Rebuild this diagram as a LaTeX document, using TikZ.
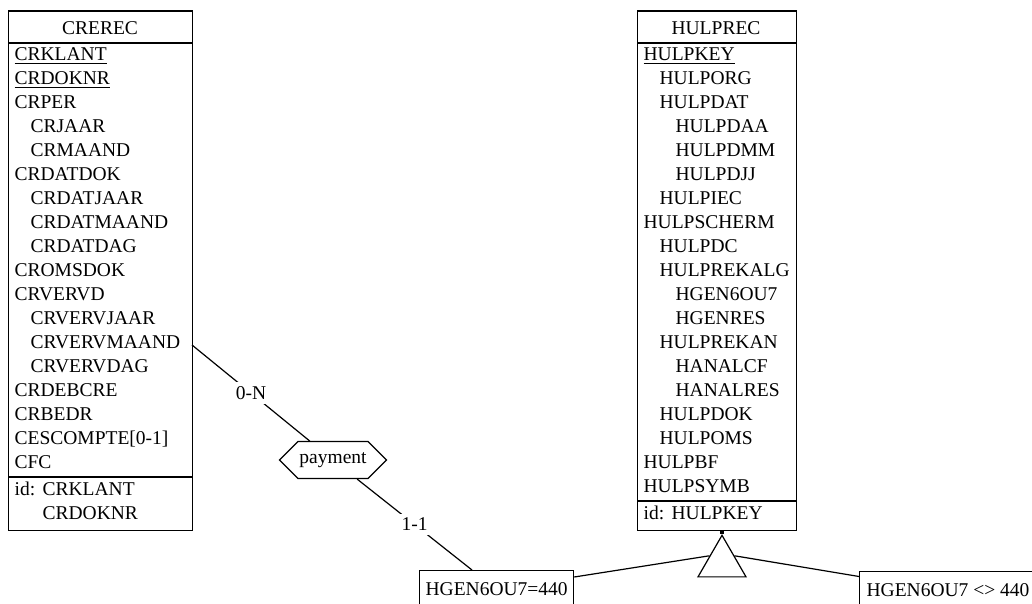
\documentclass[tikz,border=0pt]{standalone}
\usepackage{fontspec}
\setmainfont{Liberation Serif}
\usetikzlibrary{shapes.geometric,shapes.symbols,calc}

\begin{document}
\begin{tikzpicture}[x=0.5pt, y=-0.5pt, line width=0.6pt,
	every node/.style={font=\fontsize{9.75}{12}\selectfont, inner sep=0pt},
	entity/.style={draw, anchor=north west, minimum height=259.75pt},
	attr/.style={anchor=base west},
	card/.style={fill=white, inner sep=2pt},
	subtype/.style={draw, anchor=north west, inner xsep=3pt, inner ysep=0pt, text height=12.5pt, text depth=10pt}]
	\useasboundingbox (0,0) rectangle (1032,604);
	
	% CREREC
	\node[entity, minimum width=92pt] (crerec) at (8,10.5) {};
	\node[anchor=base] (creTitle) at (100,34.5) {CREREC};
	\draw (8,43) -- (192,43);
	\draw (8,477) -- (192,477);
	\foreach \name/\lvl [count=\i] in {{\underline{CRKLANT}}/0, {\underline{CRDOKNR}}/0, CRPER/0, CRJAAR/1, CRMAAND/1, CRDATDOK/0, CRDATJAAR/1, CRDATMAAND/1, CRDATDAG/1, CROMSDOK/0, CRVERVD/0, CRVERVJAAR/1, CRVERVMAAND/1, CRVERVDAG/1, CRDEBCRE/0, CRBEDR/0, {CESCOMPTE[0-1]}/0, CFC/0} {
		\pgfmathsetmacro{\x}{14+\lvl*16}
		\pgfmathsetmacro{\y}{60.5+(\i-1)*24}
		\node[attr] (cre\i) at (\x,\y) {\name};
	}
	\node[attr] (creId) at (14,495) {id:};
	\node[attr] (creIdA) at (42,495) {CRKLANT};
	\node[attr] (creIdB) at (42,519) {CRDOKNR};
	
	% HULPREC
	\node[entity, minimum width=79.5pt] (hulprec) at (637,10.5) {};
	\node[anchor=base] (hulpTitle) at (716,34.5) {HULPREC};
	\draw (637,43) -- (796,43);
	\draw (637,501) -- (796,501);
	\foreach \name/\lvl [count=\i] in {{\underline{HULPKEY}}/0, HULPORG/1, HULPDAT/1, HULPDAA/2, HULPDMM/2, HULPDJJ/2, HULPIEC/1, HULPSCHERM/0, HULPDC/1, HULPREKALG/1, HGEN6OU7/2, HGENRES/2, HULPREKAN/1, HANALCF/2, HANALRES/2, HULPDOK/1, HULPOMS/1, HULPBF/0, HULPSYMB/0} {
		\pgfmathsetmacro{\x}{643+\lvl*16}
		\pgfmathsetmacro{\y}{60.5+(\i-1)*24}
		\node[attr] (hulp\i) at (\x,\y) {\name};
	}
	\node[attr] (hulpId) at (643,519) {id:};
	\node[attr] (hulpIdA) at (671,519) {HULPKEY};
	
	% relationship
	\node[draw, signal, signal to=west and east, minimum width=53.5pt, minimum height=18.5pt] (payment) at (333,460) {payment};
	\node[subtype] (hgenEq) at (419,570) {HGEN6OU7=440};
	\node[subtype, inner xsep=3.5pt] (hgenNe) at (859,570.5) {HGEN6OU7 <> 440};
	\coordinate (creOut) at (192,345);
	\coordinate (hgenIn) at (472,570);
	\draw (creOut) -- node[card] (cardZeroN) {0-N} (payment);
	\draw (payment) -- node[card] (cardOneOne) {1-1} (hgenIn);
	
	% is-a
	\node[draw, regular polygon, regular polygon sides=3, minimum size=27.7pt] (isa) at (722,563) {};
	\draw[line width=1.6pt] (hulprec.south -| isa.corner 1) -- (isa.corner 1);
	\draw ($(hgenEq.north east)+(0,7)$) -- (isa.side 1);
	\draw ($(hgenNe.north west)+(0,6)$) -- (isa.side 3);
	
\end{tikzpicture}
\end{document}
